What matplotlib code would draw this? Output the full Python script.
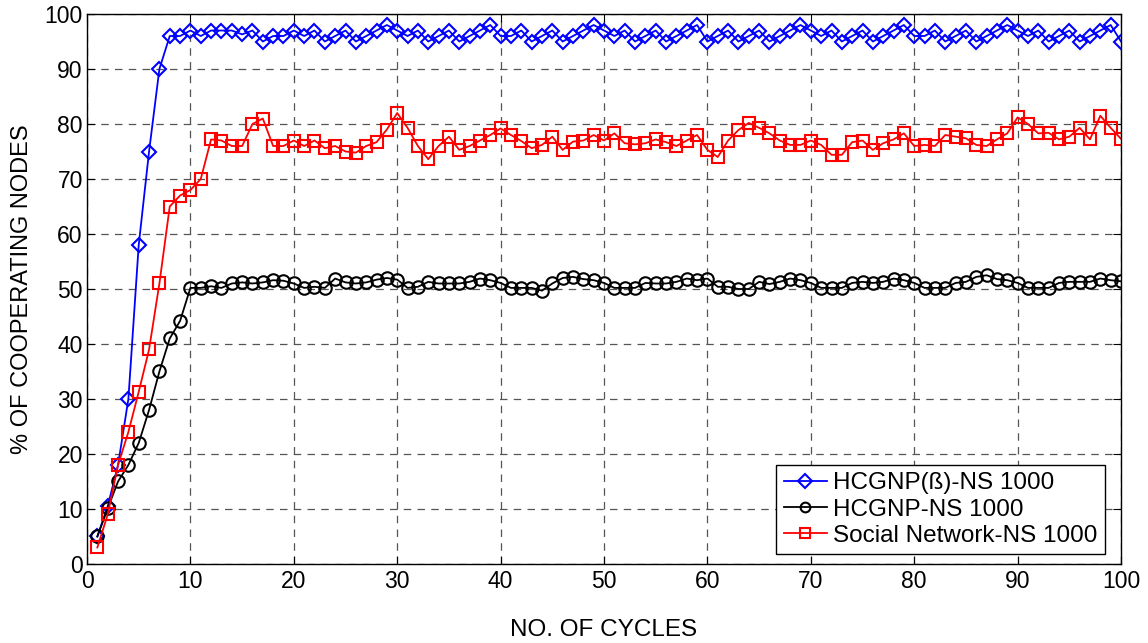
import matplotlib
matplotlib.use("Agg")
import matplotlib.pyplot as plt
import numpy as np

plt.rcParams['font.family'] = ['Liberation Sans', 'DejaVu Sans']

cycles = list(range(1, 101))

hcgnp_beta = [5, 10.5, 18, 30, 58, 75, 90, 96, 96, 97,
              96, 97, 97, 97, 96.3, 97, 95, 96, 96, 97,
              96, 97, 95, 96, 97, 95, 96, 97, 98, 97,
              96, 97, 95, 96, 97, 95, 96, 97, 98, 96,
              96, 97, 95, 96, 97, 95, 96, 97, 98, 97,
              96, 97, 95, 96, 97, 95, 96, 97, 98, 95,
              96, 97, 95, 96, 97, 95, 96, 97, 98, 97,
              96, 97, 95, 96, 97, 95, 96, 97, 98, 96,
              96, 97, 95, 96, 97, 95, 96, 97, 98, 97,
              96, 97, 95, 96, 97, 95, 96, 97, 98, 95]

hcgnp = [5, 10.1, 15, 18, 22, 28, 35, 41, 44.2, 50.2,
         50.2, 50.5, 50.2, 51, 51.2, 51, 51.2, 51.6, 51.5, 51,
         50.2, 50.4, 50.2, 51.9, 51.2, 51, 51.2, 51.7, 52, 51.7,
         50.2, 50.4, 51.3, 51, 51, 51, 51.3, 51.9, 51.6, 51.1,
         50.2, 50.2, 50.2, 49.7, 51, 52, 52.2, 51.8, 51.6, 51.1,
         50.2, 50.2, 50.2, 51.1, 51, 51, 51.3, 51.9, 51.6, 51.9,
         50.4, 50.4, 50, 50, 51.3, 50.9, 51.3, 51.9, 51.6, 51.1,
         50.2, 50.2, 50.2, 51.1, 51.3, 51.1, 51.3, 51.9, 51.6, 51.1,
         50.2, 50.2, 50.2, 51.1, 51.3, 52.2, 52.5, 51.8, 51.6, 51.1,
         50.2, 50.2, 50.2, 51.1, 51.3, 51.3, 51.3, 51.9, 51.6, 51.4]

social = [3, 9, 18, 24, 31.3, 39, 51, 65, 67, 68,
          70, 77.2, 77, 76, 76, 80, 81, 76, 76, 77,
          76, 77, 75.6, 76, 75, 74.8, 76, 76.7, 79, 82,
          79.3, 76, 73.6, 76, 77.7, 75.3, 76, 77, 78, 79.2,
          78, 76.9, 75.6, 76.2, 77.7, 75.3, 76.8, 77, 78, 77,
          78.3, 76.5, 76.3, 76.5, 77.2, 76.7, 76, 77, 78, 75.3,
          74, 77, 78.9, 80.2, 79.3, 78.3, 77, 76.2, 76.2, 77,
          76.2, 74.4, 74.4, 76.7, 77, 75.3, 76.5, 77.2, 78.3, 76,
          76.2, 76, 78, 77.7, 77.4, 76.2, 76, 77.2, 78.3, 81.2,
          80, 78.3, 78.4, 77.2, 77.7, 79.3, 77.2, 81.5, 79.3, 77.3]

series_labels = ['HCGNP(\u00df)-NS 1000', 'HCGNP-NS 1000', 'Social Network-NS 1000']
x_ticks = list(range(0, 101, 10))
y_ticks = list(range(0, 101, 10))

fig = plt.figure(figsize=(11.48, 6.43), dpi=100)
ax = fig.add_axes([0.0758, 0.1229, 0.9007, 0.8553])

lw = 1.3
ax.plot(cycles, hcgnp_beta, color='#0000ff', marker='D', markersize=7.5,
        markerfacecolor='none', markeredgewidth=1.5, linewidth=lw, label=series_labels[0])
ax.plot(cycles, hcgnp, color='black', marker='o', markersize=9,
        markerfacecolor='none', markeredgewidth=1.5, linewidth=lw, label=series_labels[1])
ax.plot(cycles, social, color='#ff0000', marker='s', markersize=8.5,
        markerfacecolor='none', markeredgewidth=1.5, linewidth=lw, label=series_labels[2])

ax.set_xlim(0, 100)
ax.set_ylim(0, 100)
ax.set_xticks(x_ticks)
ax.set_yticks(y_ticks)
ax.tick_params(direction='in', length=6, width=0.8, top=True, right=True,
               labelsize=16.5)
ax.tick_params(axis='x', pad=4)
ax.tick_params(axis='y', pad=3)
ax.grid(True, linestyle=(0, (6, 5)), color='#555555', linewidth=0.9)
for s in ax.spines.values():
    s.set_linewidth(1.0)

ax.set_xlabel('NO. OF CYCLES', fontsize=17.5, labelpad=19)
ax.set_ylabel('% OF COOPERATING NODES', fontsize=17, labelpad=8)

leg = ax.legend(loc='lower right', bbox_to_anchor=(0.9845, 0.018), fontsize=17.5,
                fancybox=False, framealpha=1, edgecolor='black', borderaxespad=0,
                handlelength=1.8, borderpad=0.3, labelspacing=0.17, handletextpad=0.25)
leg.get_frame().set_linewidth(1.0)
for h in leg.legend_handles:
    h.set_markersize(7)

fig.savefig('out.png', dpi=100)
